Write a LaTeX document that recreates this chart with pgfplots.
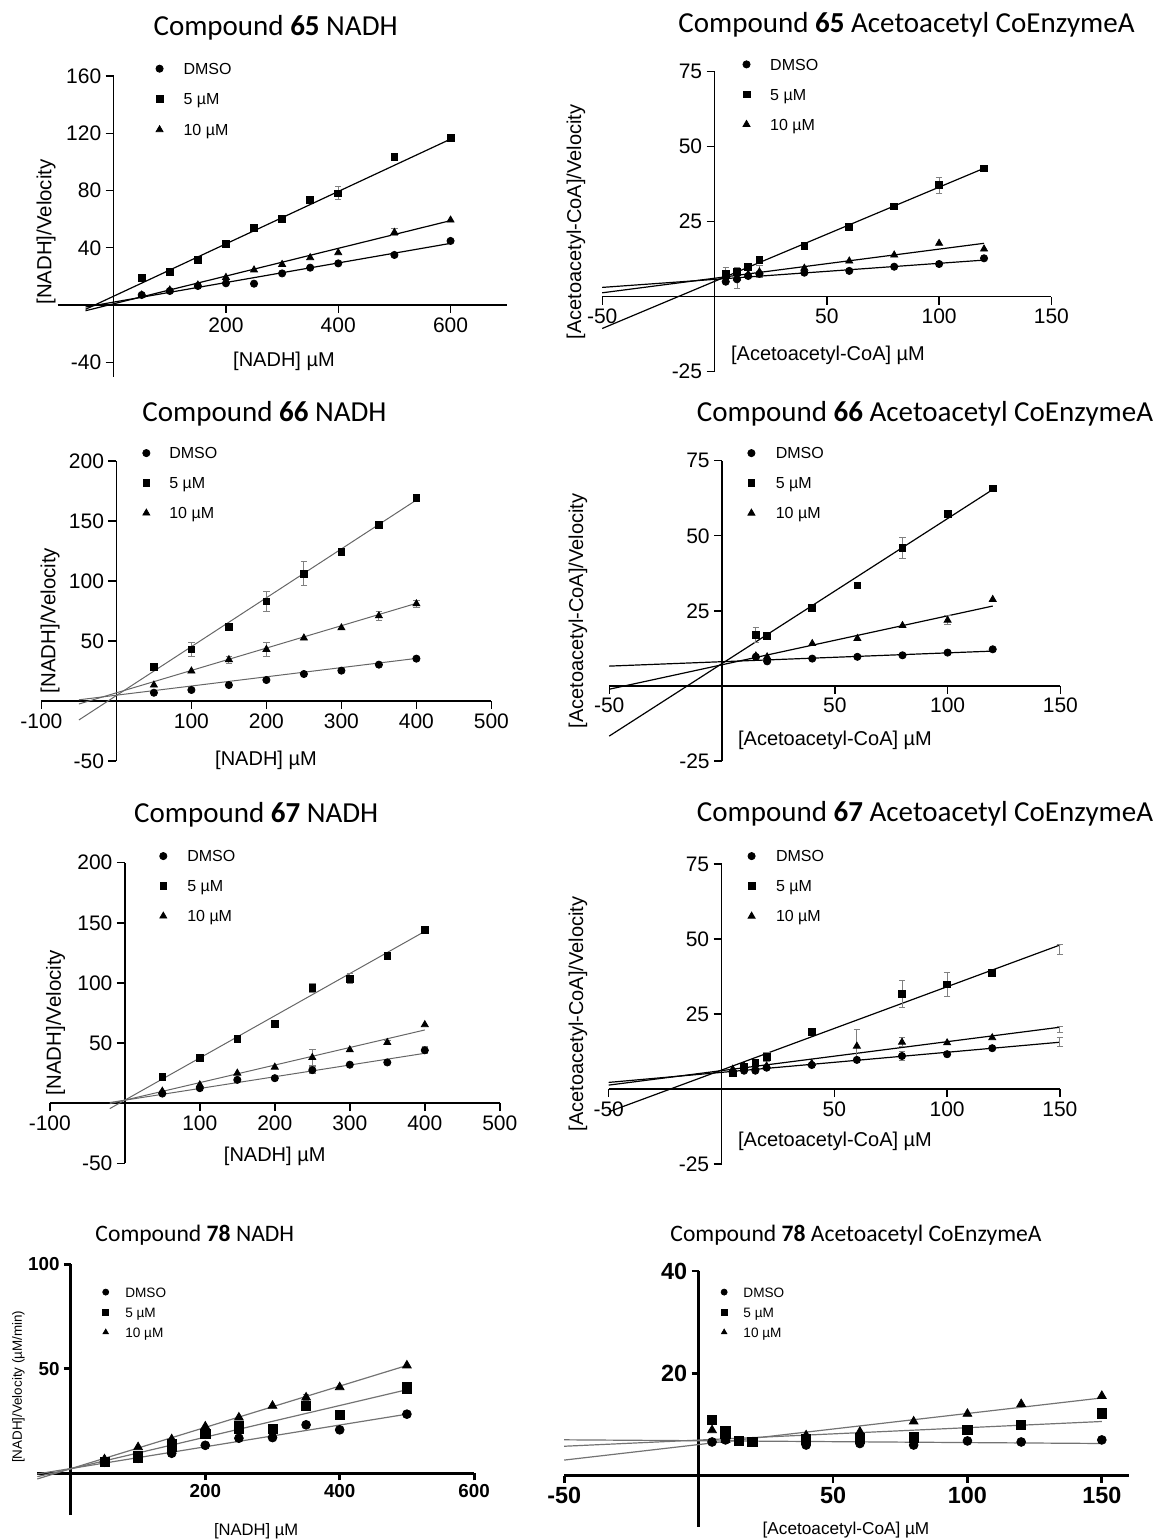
\documentclass[border=0pt]{standalone}
\usepackage{fontspec}
\setmainfont{Liberation Sans}
\newfontfamily\titlefont{Carlito}
\usepackage{pgfplots}
\pgfplotsset{compat=1.18}

\pgfplotsset{
  base/.style={
    scale only axis, anchor=south west, clip=false,
    axis lines=middle, axis line style={-,black,line width=0.7pt},
    tick align=outside, major tick length=4pt, tick style={black,line width=0.7pt},
    /pgf/number format/assume math mode=true,
    ticklabel style={font=\fontsize{10.5}{12}\selectfont},
    xticklabel style={inner ysep=2pt}, yticklabel style={inner xsep=2pt},
    legend cell align=left,
    legend style={draw=none,fill=none,inner sep=0pt,column sep=0pt,row sep=9.3pt,
      anchor=north west,font=\fontsize{8}{10}\selectfont,
      nodes={inner sep=0pt,anchor=west,text height=5.7pt,text depth=0pt}},
  },
  bold/.style={
    axis line style={-,black,line width=1.4pt},
    tick style={black,line width=1.4pt}, major tick length=3.5pt,
    legend style={row sep=5pt,font=\fontsize{6.8}{8}\selectfont,
      nodes={inner sep=0pt,anchor=west,text height=5pt,text depth=0pt}},
  },
  lgd/.style={legend image code/.code={\path[draw=none] (-3pt,0pt) -- (#1,0pt);\draw[##1] plot coordinates {(0pt,0pt)};}},
  lgds/.style={legend image code/.code={\path[draw=none] (-3pt,0pt) -- (#1,0pt);\draw[##1,mark size=1.5pt] plot coordinates {(0pt,0pt)};}},
  dm/.style={only marks,black,mark=*,mark size=1.8pt},
  fv/.style={only marks,black,mark=square*,mark size=1.7pt},
  tn/.style={only marks,black,mark=triangle*,mark size=2pt},
  dmb/.style={only marks,black,mark=*,mark size=2.2pt},
  fvb/.style={only marks,black,mark=square*,mark size=2.3pt},
  tnb/.style={only marks,black,mark=triangle*,mark size=2.5pt},
  fit/.style={black,line width=0.6pt,no markers,forget plot},
  fitg/.style={black!60,line width=0.5pt,no markers,forget plot},
  fitb/.style={black!55,line width=0.6pt,no markers,forget plot},
  eb/.style={error bars/.cd,y dir=both,y explicit,
    error bar style={black!50,line width=0.45pt},
    error mark options={rotate=90,black!50,mark size=1.6pt,line width=0.45pt}},
}

\newcommand{\ttl}[3]{\node[font=\titlefont\fontsize{#3}{#3}\selectfont] at #1 {#2};}

\begin{document}
\begin{tikzpicture}
\useasboundingbox (0,0) rectangle (580.5pt,-770pt);

% ---------- Compound 65 NADH ----------
\ttl{(137.8pt,-14pt)}{Compound \textbf{65} NADH}{14.5}
\begin{axis}[base,lgd=12pt,at={(28.75pt,-188.25pt)},width=224.6pt,height=150.15pt,
  xmin=-100,xmax=700,ymin=-50,ymax=160,xtick={200,400,600},ytick={-40,40,80,120,160},
  legend style={at={(0.213,1.0453)},row sep=9.55pt}]
\addplot[fit] coordinates {(-50,-1.4) (600,43.1)};
\addplot[fit] coordinates {(-50,-3) (600,116)};
\addplot[fit] coordinates {(-50,-4) (600,59)};
\addplot[dm,eb] coordinates {(50,7) (100,9.8) (150,13.3) (200,15.2) (250,14.9) (300,22.1) (350,26.1) (400,29.1) (500,35) (600,44.8)};
\addplot[fv,eb] coordinates {(50,19.1) (100,23.3) (150,31.5) +- (0,2) (200,43) (250,54.1) (300,60.1) (350,73.4) (400,78.1) +- (0,4.5) (500,103.7) (600,117)};
\addplot[tn,eb] coordinates {(50,7) (100,10.5) (150,14) (200,19.3) (250,24.5) (300,28.4) (350,33.1) (400,36.6) (500,50.8) +- (0,2.5) (600,59.4)};
\legend{DMSO,5 µM,10 µM}
\end{axis}
\node[rotate=90,font=\fontsize{10.2}{12}\selectfont] at (23pt,-116pt) {[NADH]/Velocity};
\node[font=\fontsize{10}{12}\selectfont] at (142pt,-180.85pt) {[NADH] µM};

% ---------- Compound 65 Acetoacetyl ----------
\ttl{(453.25pt,-12.5pt)}{Compound \textbf{65} Acetoacetyl CoEnzymeA}{14.5}
\begin{axis}[base,lgd=11.85pt,at={(301.1pt,-185.85pt)},width=224.6pt,height=150pt,
  xmin=-50,xmax=150,ymin=-25,ymax=75,xtick={-50,50,100,150},ytick={-25,25,50,75},
  legend style={at={(0.307,1.0447)}}]
\addplot[fit] coordinates {(-50,3.1) (120,12.2)};
\addplot[fit] coordinates {(-50,-10.6) (120,42.8)};
\addplot[fit] coordinates {(-50,1.3) (120,17.8)};
\addplot[dm,eb] coordinates {(5,5) (10,5.8) (15,6.9) (20,7.6) (40,8) (60,8.6) (80,10) (100,10.9) (120,12.8)};
\addplot[fv,eb] coordinates {(5,7.6) +- (0,2) (10,8.3) (15,10) (20,12.2) (40,17) (60,23.3) (80,30.1) (100,37.2) +- (0,2.7) (120,42.8)};
\addplot[tn,eb] coordinates {(5,7) (10,6.2) +- (0,3.5) (15,7.5) (20,8.3) +- (0,2) (40,9.5) (60,11.9) (80,13.9) (100,17.8) (120,15.9)};
\legend{DMSO,5 µM,10 µM}
\end{axis}
\node[rotate=90,font=\fontsize{10}{12}\selectfont] at (288pt,-111pt) {[Acetoacetyl-CoA]/Velocity};
\node[font=\fontsize{10}{12}\selectfont] at (414pt,-177.5pt) {[Acetoacetyl-CoA] µM};

% ---------- Compound 66 NADH ----------
\ttl{(132.25pt,-207pt)}{Compound \textbf{66} NADH}{14.5}
\begin{axis}[base,lgd=11.5pt,at={(20.7pt,-380.5pt)},width=225pt,height=150pt,
  xmin=-100,xmax=500,ymin=-50,ymax=200,xtick={-100,100,200,300,400,500},ytick={-50,50,100,150,200},
  legend style={at={(0.219,1.0467)}}]
\addplot[fitg] coordinates {(-50,1) (400,35.5)};
\addplot[fitg] coordinates {(-50,-15.8) (400,167.5)};
\addplot[fitg] coordinates {(-50,-2.5) (400,81.4)};
\addplot[dm,eb] coordinates {(50,6.9) (100,9.2) (150,13.3) (200,17.5) (250,22.5) (300,25.3) (350,30.3) (400,35.3)};
\addplot[fv,eb] coordinates {(50,28.5) (100,43) +- (0,6) (150,62) (200,83) +- (0,8) (250,106) +- (0,10) (300,124.5) (350,147) +- (0,3) (400,169)};
\addplot[tn,eb] coordinates {(50,13.3) (100,25) (150,34.5) +- (0,3) (200,43) +- (0,6) (250,52.5) (300,61) (350,71) +- (0,4) (400,81) +- (0,3)};
\legend{DMSO,5 µM,10 µM}
\end{axis}
\node[rotate=90,font=\fontsize{10.2}{12}\selectfont] at (25pt,-310.25pt) {[NADH]/Velocity};
\node[font=\fontsize{10}{12}\selectfont] at (133pt,-380pt) {[NADH] µM};

% ---------- Compound 66 Acetoacetyl ----------
\ttl{(462.5pt,-207pt)}{Compound \textbf{66} Acetoacetyl CoEnzymeA}{14.5}
\begin{axis}[base,lgd=12.2pt,at={(304.6pt,-380.5pt)},width=225.6pt,height=150.15pt,
  xmin=-50,xmax=150,ymin=-25,ymax=75,xtick={-50,50,100,150},ytick={-25,25,50,75},
  legend style={at={(0.301,1.0456)}}]
\addplot[fit] coordinates {(-50,6.6) (120,11.6)};
\addplot[fit] coordinates {(-50,-16.7) (120,65.4)};
\addplot[fit] coordinates {(-50,-1.1) (120,26.6)};
\addplot[dm,eb] coordinates {(15,9.7) (20,8.2) (40,9.1) (60,9.7) (80,10.2) (100,11.1) (120,12.2)};
\addplot[fv,eb] coordinates {(15,16.9) +- (0,2.5) (20,16.7) (40,26) (60,33.5) (80,46) +- (0,3.5) (100,57.2) (120,65.8)};
\addplot[tn,eb] coordinates {(15,10) (20,9.7) (40,14.1) (60,15.8) (80,20.1) (100,21.9) +- (0,1.5) (120,28.8)};
\legend{DMSO,5 µM,10 µM}
\end{axis}
\node[rotate=90,font=\fontsize{10}{12}\selectfont] at (289pt,-305.5pt) {[Acetoacetyl-CoA]/Velocity};
\node[font=\fontsize{10}{12}\selectfont] at (417.5pt,-370pt) {[Acetoacetyl-CoA] µM};

% ---------- Compound 67 NADH ----------
\ttl{(128.1pt,-407.5pt)}{Compound \textbf{67} NADH}{14.5}
\begin{axis}[base,lgd=12pt,at={(24.9pt,-581.65pt)},width=225pt,height=150.3pt,
  xmin=-100,xmax=500,ymin=-50,ymax=200,xtick={-100,100,200,300,400,500},ytick={-50,50,100,150,200},
  legend style={at={(0.238,1.0423)}}]
\addplot[fitg] coordinates {(-20,0.55) (400,41.5)};
\addplot[fitg] coordinates {(-20,-4.5) (400,142.9)};
\addplot[fitg] coordinates {(-20,-0.4) (400,60.9)};
\addplot[dm,eb] coordinates {(50,8) (100,12.5) (150,19.4) (200,20.8) (250,27.5) +- (0,3) (300,32) (350,33.9) (400,44) +- (0,3)};
\addplot[fv,eb] coordinates {(50,22) +- (0,2.5) (100,38) (150,53.3) +- (0,2) (200,66) +- (0,3) (250,96) +- (0,4) (300,103.5) +- (0,4) (350,122.2) (400,144.4) +- (0,2.5)};
\addplot[tn,eb] coordinates {(50,10) (100,15.3) (150,25) (200,30) (250,38) +- (0,7) (300,44.4) (350,50.5) +- (0,2) (400,65.3)};
\legend{DMSO,5 µM,10 µM}
\end{axis}
\node[rotate=90,font=\fontsize{10.2}{12}\selectfont] at (27.75pt,-511.25pt) {[NADH]/Velocity};
\node[font=\fontsize{10}{12}\selectfont] at (137.35pt,-578.35pt) {[NADH] µM};

% ---------- Compound 67 Acetoacetyl ----------
\ttl{(462.5pt,-407pt)}{Compound \textbf{67} Acetoacetyl CoEnzymeA}{14.5}
\begin{axis}[base,lgd=12.2pt,at={(304.35pt,-582pt)},width=225.6pt,height=150pt,
  xmin=-50,xmax=150,ymin=-25,ymax=75,xtick={-50,50,100,150},ytick={-25,25,50,75},
  legend style={at={(0.3025,1.0467)}}]
\addplot[fit] coordinates {(-50,2.2) (150,15.6)};
\addplot[fit] coordinates {(-50,-7.6) (150,48)};
\addplot[fit] coordinates {(-50,1.3) (150,20.6)};
\addplot[dm,eb] coordinates {(5,5.4) (10,6.1) (15,6.1) (20,7.1) (40,8) (60,9.7) (80,11) +- (0,1.5) (100,11.6) (120,13.6)};
\addplot[fv,eb] coordinates {(5,5.2) (10,7.4) (15,8.8) (20,10.8) +- (0,1.5) (40,19.1) (80,31.6) +- (0,4.5) (100,34.9) +- (0,4) (120,38.6)};
\addplot[tn,eb] coordinates {(5,6.6) (10,7.7) (15,7.3) (20,7.7) (40,8.5) (60,14.3) +- (0,5.5) (80,15.6) +- (0,1.5) (100,15.4) (120,17.1)};
\addplot[draw=none,mark=none,forget plot,eb] coordinates {(150,46.5) +- (0,1.8) (150,19.9) +- (0,1) (150,15.8) +- (0,1.5)};
\legend{DMSO,5 µM,10 µM}
\end{axis}
\node[rotate=90,font=\fontsize{10}{12}\selectfont] at (289pt,-507pt) {[Acetoacetyl-CoA]/Velocity};
\node[font=\fontsize{10}{12}\selectfont] at (417.5pt,-570.85pt) {[Acetoacetyl-CoA] µM};

% ---------- Compound 78 NADH ----------
\ttl{(97.4pt,-617.5pt)}{Compound \textbf{78} NADH}{11.8}
\begin{axis}[base,bold,lgds=9.8pt,at={(18.65pt,-757.55pt)},width=218.4pt,height=125.4pt,
  xmin=-50,xmax=600,ymin=-20,ymax=100,xtick={200,400,600},ytick={50,100},
  ticklabel style={font=\bfseries\fontsize{9.4}{11}\selectfont},
  legend style={at={(0.142,0.9107)}}]
\addplot[fitb] coordinates {(-50,-0.3) (500,28.3)};
\addplot[fitb] coordinates {(-50,-1.6) (500,40)};
\addplot[fitb] coordinates {(-50,-2.7) (500,51.6)};
\addplot[dmb] coordinates {(50,5.3) (100,7.2) (150,9.6) (200,13.4) (250,16.8) (300,17.1) (350,23.2) (400,20.8) (500,28.3)};
\addplot[fvb] coordinates {(50,5.3) (100,8.5) (100,7.5) (150,13.9) (150,12.5) (200,18.8) (250,21.2) (250,22.5) (300,21.1) (350,32.4) (400,28) (500,40.4) (500,41.5)};
\addplot[tnb,eb] coordinates {(50,6.7) (100,12.5) (150,16.3) (200,22.4) (250,26.7) (300,32.3) (350,36.3) +- (0,1.5) (400,41.2) (500,51.6)};
\legend{DMSO,5 µM,10 µM}
\end{axis}
\node[rotate=90,font=\fontsize{6.7}{8}\selectfont] at (9.25pt,-693.35pt) {[NADH]/Velocity (µM/min)};
\node[font=\fontsize{8.3}{10}\selectfont] at (128.1pt,-765.35pt) {[NADH] µM};

% ---------- Compound 78 Acetoacetyl ----------
\ttl{(428pt,-617.5pt)}{Compound \textbf{78} Acetoacetyl CoEnzymeA}{11.8}
\begin{axis}[base,bold,lgds=9.65pt,at={(282.1pt,-763.45pt)},width=282.25pt,height=127.95pt,
  xmin=-50,xmax=160,ymin=-10,ymax=40,xtick={-50,50,100,150},ytick={20,40},
  ticklabel style={font=\bfseries\fontsize{11.7}{13}\selectfont},
  legend style={at={(0.272,0.9387)}}]
\addplot[fitb] coordinates {(-50,7.02) (150,6.3)};
\addplot[fitb] coordinates {(-50,5.76) (150,10.6)};
\addplot[fitb] coordinates {(-50,3.06) (150,15.2)};
\addplot[dmb] coordinates {(5,6.6) (10,7) (15,6.8) (20,6.6) (40,6) (40,6.8) (60,6.3) (60,6.8) (80,6) (100,6.8) (120,6.6) (150,7)};
\addplot[fvb] coordinates {(5,10.9) (10,8.7) (10,8.2) (15,6.8) (20,6.6) (40,7.1) (60,7.3) (80,7.5) (100,8.9) (120,10) (150,12.2)};
\addplot[tnb] coordinates {(5,8.9) (10,7) (40,7.9) (60,8.6) (80,10.6) (100,12.1) (120,14) (150,15.6)};
\legend{DMSO,5 µM,10 µM}
\end{axis}
\node[font=\fontsize{8.6}{10}\selectfont] at (423pt,-765pt) {[Acetoacetyl-CoA] µM};
\end{tikzpicture}
\end{document}
